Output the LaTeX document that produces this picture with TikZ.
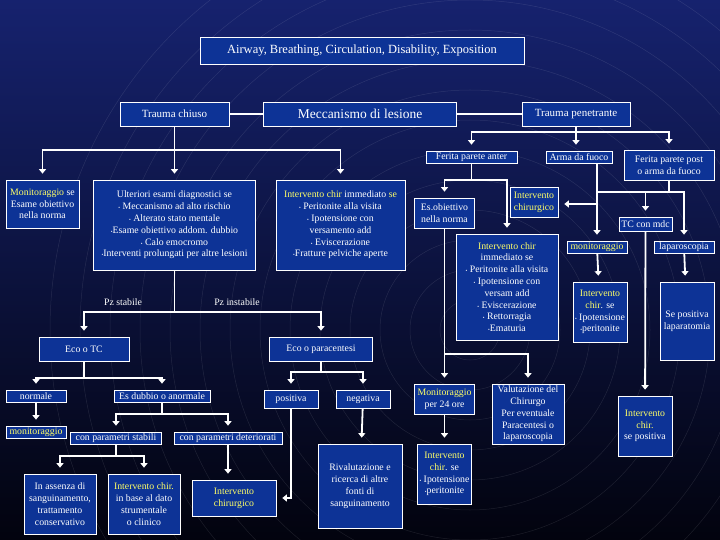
\documentclass[tikz,border=0pt]{standalone}
\usepackage{fontspec}
\setmainfont{Liberation Serif}
\usetikzlibrary{arrows.meta}
\definecolor{boxblue}{HTML}{0D3396}
\definecolor{hilite}{HTML}{FFFF66}
\definecolor{bgtop}{HTML}{16226E}
\definecolor{bgbot}{HTML}{02030E}
\newcommand{\hl}[1]{\textcolor{hilite}{#1}}
\newcommand{\bul}{{\fontsize{5}{5}\selectfont\textbullet}}
\tikzset{
  cell/.style={draw=white, line width=0.7pt, fill=boxblue, text=white,
    inner sep=0.5pt, font=\fontsize{9.8}{11.8}\selectfont},
  box/.style={cell, align=center},
  line/.style={draw=white, line width=1.8pt},
  arr/.style={line, -{Triangle[width=7pt,length=4.5pt]}, shorten >=6pt},
  lbl/.style={text=white, font=\fontsize{9.8}{11}\selectfont}
}
\begin{document}
\begin{tikzpicture}[x=1pt,y=-1pt]
    \useasboundingbox (0,0) rectangle (720,540);
    % background with faint rings
    \shade[top color=bgtop, bottom color=bgbot] (0,0) rectangle (720,540);
    \begin{scope}
        \clip (0,0) rectangle (720,540);
        \foreach \r in {30,60,...,420} {
            \draw[white, opacity=0.1, line width=0.5pt] (470,330) circle (\r);
        }
    \end{scope}

    % Top row
    \node[cell, minimum width=324, minimum height=27, font=\fontsize{12.5}{14}\selectfont] (title) at (362,51) {Airway, Breathing, Circulation, Disability, Exposition};
    \node[cell, minimum width=109, minimum height=24, font=\fontsize{11}{13}\selectfont] (tchiuso) at (174.5,114) {Trauma chiuso};
    \node[cell, minimum width=193, minimum height=24, font=\fontsize{13.5}{15}\selectfont] (mecc) at (360,114) {Meccanismo di lesione};
    \node[cell, minimum width=108, minimum height=24, font=\fontsize{11}{13}\selectfont] (tpen) at (576,114) {Trauma penetrante};

    % Trauma chiuso branch
    \node[box, minimum width=73, minimum height=48] (monit1) at (42.5,204) {\hl{Monitoraggio} se\\Esame obiettivo\\nella norma};
    \node[box, minimum width=162, minimum height=90] (ulter) at (174.5,225) {Ulteriori esami diagnostici se\\\bul\ Meccanismo ad alto rischio\\\bul\ Alterato stato mentale\\\bul Esame obiettivo addom. dubbio\\\bul\ Calo emocromo\\\bul Interventi prolungati per altre lesioni};
    \node[box, minimum width=129, minimum height=90] (intimm) at (340.5,225) {\hl{Intervento chir} immediato \hl{se}\\\bul\ Peritonite alla visita\\\bul\ Ipotensione con\\versamento add\\\bul\ Eviscerazione\\\bul Fratture pelviche aperte};
    \node[lbl] (pzst) at (123,302) {Pz stabile};
    \node[lbl] (pzin) at (237,302) {Pz instabile};
    \node[cell, minimum width=90, minimum height=24] (ecotc) at (84,349) {Eco o TC};
    \node[cell, minimum width=103, minimum height=24] (ecopar) at (321,349) {Eco o paracentesi};

    \node[cell, minimum width=60, minimum height=12] (normale) at (36,396) {normale};
    \node[cell, minimum width=96, minimum height=12] (esdub) at (162,396) {Es dubbio o anormale};
    \node[cell, minimum width=60, minimum height=12] (monit3) at (36,432) {\hl{monitoraggio}};
    \node[cell, minimum width=91, minimum height=12] (stab) at (116,438) {con parametri stabili};
    \node[cell, minimum width=108, minimum height=12] (deter) at (228,438) {con parametri deteriorati};
    \node[box, minimum width=72, minimum height=60] (assenza) at (60,504) {In assenza di\\sanguinamento,\\trattamento\\conservativo};
    \node[box, minimum width=72, minimum height=60] (inbase) at (144,504) {\hl{Intervento chir.}\\in base al dato\\strumentale\\o clinico};
    \node[box, minimum width=84, minimum height=36] (intchir2) at (234,498) {\hl{Intervento}\\\hl{chirurgico}};
    \node[cell, minimum width=54, minimum height=18] (positiva) at (291,399) {positiva};
    \node[cell, minimum width=54, minimum height=18] (negativa) at (363,399) {negativa};
    \node[box, minimum width=84, minimum height=84] (rival) at (360,486) {Rivalutazione e\\ricerca di altre\\fonti di\\sanguinamento};

    % Trauma penetrante branch
    \node[cell, minimum width=91, minimum height=12] (ferant) at (471.5,157) {Ferita parete anter};
    \node[cell, minimum width=66, minimum height=12] (arma) at (579,157) {Arma da fuoco};
    \node[box, minimum width=90, minimum height=30] (ferpost) at (669,165) {Ferita parete post\\o arma da fuoco};
    \node[box, minimum width=60, minimum height=30] (esob) at (444.5,213) {Es.obiettivo\\nella norma};
    \node[box, minimum width=48, minimum height=30] (intchir1) at (534,202) {\hl{Intervento}\\\hl{chirurgico}};
    \node[box, minimum width=102, minimum height=106] (intimm2) at (507,287) {\hl{Intervento chir}\\immediato se\\\bul\ Peritonite alla visita\\\bul\ Ipotensione con\\versam add\\\bul\ Eviscerazione\\\bul\ Rettorragia\\\bul Ematuria};
    \node[cell, minimum width=53, minimum height=14] (tcmdc) at (645.5,224) {TC con mdc};
    \node[cell, minimum width=60, minimum height=12] (monit2) at (597,247) {\hl{monitoraggio}};
    \node[cell, minimum width=60, minimum height=12] (lapar) at (684,247) {laparoscopia};
    \node[box, minimum width=54, minimum height=60] (intse2) at (600,312) {\hl{Intervento}\\\hl{chir}. se\\\bul\ Ipotensione\\\bul peritonite};
    \node[box, minimum width=54, minimum height=78] (sepos) at (687,321) {Se positiva\\laparatomia};
    \node[box, minimum width=54, minimum height=60] (intsepos) at (645,426) {\hl{Intervento}\\\hl{chir.}\\se positiva};
    \node[box, minimum width=60, minimum height=30] (mon24) at (444.5,399) {\hl{Monitoraggio}\\per 24 ore};
    \node[box, minimum width=72, minimum height=60] (valut) at (528,414) {Valutazione del\\Chirurgo\\Per eventuale\\Paracentesi o\\laparoscopia};
    \node[box, minimum width=54, minimum height=60] (intse3) at (444.5,474) {\hl{Intervento}\\\hl{chir}. se\\\bul\ Ipotensione\\\bul peritonite};

    % Connectors: top
    \draw[line] (tchiuso) -- (mecc);
    \draw[line] (mecc) -- (tpen);
    \draw[line] (tchiuso.south) -- (tchiuso.south |- 0,150) coordinate (jc);
    \draw[arr] (jc) -| (monit1.north);
    \draw[arr] (jc) -- (ulter.north);
    \draw[arr] (jc) -| (intimm.north);
    % Trauma chiuso
    \draw[line] (ulter.south) -- (ulter.south |- 0,312) coordinate (ju);
    \draw[arr] (ju) -| (ecotc.north);
    \draw[arr] (ju) -| (ecopar.north);
    \draw[line] (ecotc.south) -- (ecotc.south |- 0,378) coordinate (jt);
    \draw[arr] (jt) -| (normale.north);
    \draw[arr] (jt) -| (esdub.north);
    \draw[arr] (normale) -- (monit3);
    \draw[line] (esdub.south) -- (esdub.south |- 0,414) coordinate (jd);
    \draw[arr] (jd) -| (stab.north);
    \draw[arr] (jd) -| (deter.north);
    \draw[line] (stab.south) -- (stab.south |- 0,456) coordinate (js);
    \draw[arr] (js) -| (assenza.north);
    \draw[arr] (js) -| (inbase.north);
    \draw[arr] (deter.south) -- (deter.south |- intchir2.north);
    \draw[line] (ecopar.south) -- (ecopar.south |- 0,372) coordinate (je2);
    \draw[arr] (je2) -| (positiva.north);
    \draw[arr] (je2) -| (negativa.north);
    \draw[arr] (negativa) -- (rival);
    \draw[arr] (positiva.south) |- (intchir2.east);
    % Trauma penetrante
    \draw[line] (tpen.south) -- (tpen.south |- 0,132) coordinate (jp);
    \draw[arr] (jp) -| (ferant.north);
    \draw[arr] (jp) -- (arma.north -| jp);
    \draw[arr] (jp) -| (ferpost.north);
    \draw[line] (ferant.south) -- (ferant.south |- 0,180) coordinate (ja);
    \draw[arr] (ja) -| (esob.north);
    \draw[arr] (ja) -| (intimm2.north);
    \draw[arr] (arma.south -| monit2.north) -- (monit2.north);
    \draw[line] (ferpost.south) -- (ferpost.south |- 0,192) coordinate (jq);
    \draw[line] (jq) -- (jq -| monit2.north);
    \draw[arr] (jq) -| (tcmdc.north);
    \draw[arr] (jq) -| (lapar.north);
    \draw[arr] ([yshift=-2pt]intchir1.east -| monit2.north) -- ([yshift=-2pt]intchir1.east);
    \draw[arr] (monit2) -- (intse2);
    \draw[arr] (lapar) -- (sepos);
    \draw[arr] (tcmdc) -- (intsepos);
    \draw[line] (esob.south) -- (esob.south |- 0,354) coordinate (je);
    \draw[arr] (je) -- (mon24.north);
    \draw[arr] (je) -| (valut.north);
    \draw[arr] (mon24) -- (intse3);
\end{tikzpicture}
\end{document}
